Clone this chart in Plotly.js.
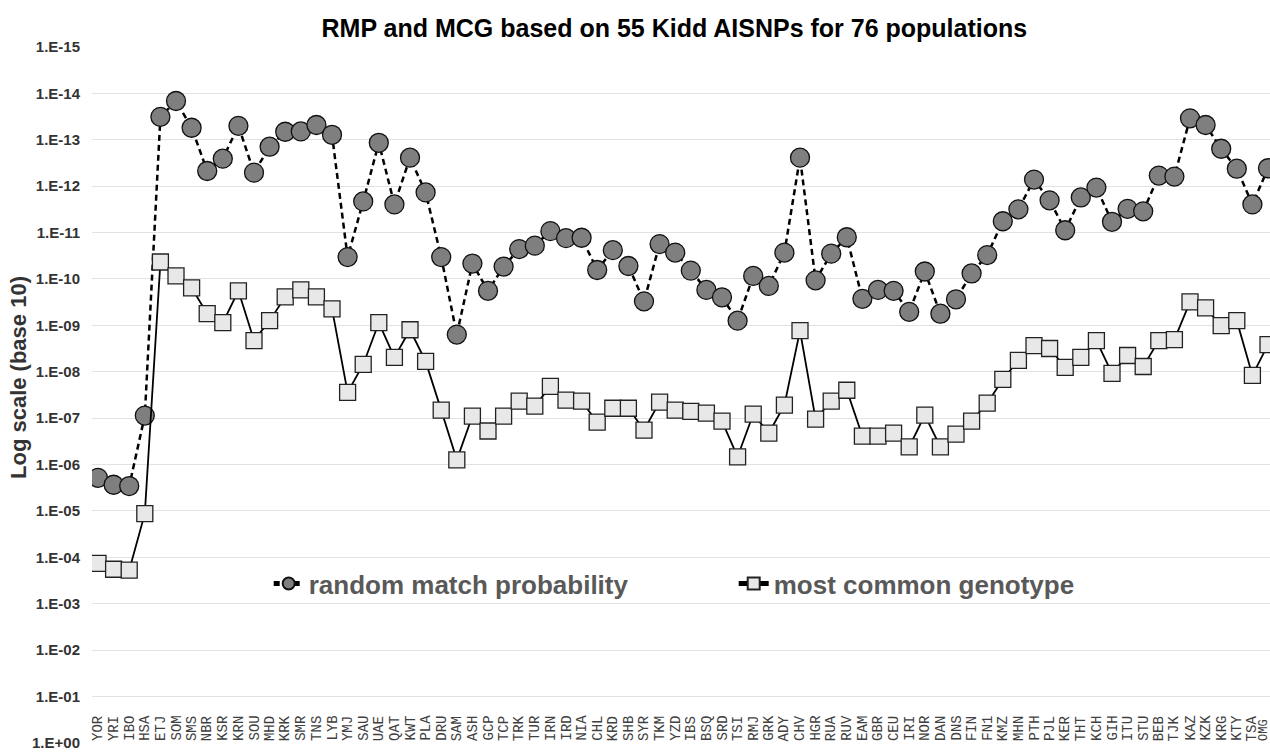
<!DOCTYPE html>
<html>
<head>
<meta charset="utf-8">
<script src="https://cdn.plot.ly/plotly-3.0.1.min.js"></script>
<style>html,body{margin:0;padding:0;background:#fff;}#chart{width:1270px;height:752px;}</style>
</head>
<body>
<div id="chart"></div>
<script>
const populations = ["YOR","YRI","IBO","HSA","ETJ","SOM","SMS","NBR","KSR","KRN","SOU","MHD","KRK","SMR","TNS","LYB","YMJ","SAU","UAE","QAT","KWT","PLA","DRU","SAM","ASH","GCP","TCP","TRK","TUR","IRN","IRD","NIA","CHL","KRD","SHB","SYR","TKM","YZD","IBS","BSQ","SRD","TSI","RMJ","GRK","ADY","CHV","HGR","RUA","RUV","EAM","GBR","CEU","IRI","NOR","DAN","DNS","FIN","FN1","KMZ","MHN","PTH","PJL","KER","THT","KCH","GIH","ITU","STU","BEB","TJK","KAZ","KZK","KRG","KTY","TSA","OMG"];

const rmp = [1.93e-6,2.72e-6,2.9e-6,8.8e-8,3.2e-14,1.46e-14,5.5e-14,4.7e-13,2.55e-13,5.0e-14,
  5.1e-13,1.41e-13,6.7e-14,6.6e-14,4.8e-14,7.8e-14,3.37e-11,2.13e-12,1.16e-13,2.47e-12,
  2.43e-13,1.36e-12,3.37e-11,1.58e-9,4.65e-11,1.8e-10,5.4e-11,2.27e-11,1.91e-11,9.3e-12,
  1.32e-11,1.29e-11,6.4e-11,2.39e-11,5.25e-11,3.03e-10,1.77e-11,2.7e-11,6.6e-11,1.72e-10,
  2.48e-10,7.9e-10,8.6e-11,1.41e-10,2.7e-11,2.43e-13,1.07e-10,2.84e-11,1.26e-11,2.68e-10,
  1.72e-10,1.8e-10,5.1e-10,6.9e-11,5.6e-10,2.74e-10,7.6e-11,3.05e-11,5.7e-12,3.15e-12,
  7.2e-13,2.02e-12,8.9e-12,1.75e-12,1.07e-12,5.85e-12,3.08e-12,3.48e-12,5.9e-13,6.2e-13,
  3.45e-14,4.8e-14,1.56e-13,4.2e-13,2.47e-12,4.1e-13];

const mcg = [1.34e-4,1.8e-4,1.89e-4,1.14e-5,4.3e-11,8.6e-11,1.56e-10,5.6e-10,8.75e-10,1.8e-10,
  2.12e-9,7.9e-10,2.43e-10,1.72e-10,2.43e-10,4.4e-10,2.77e-8,6.95e-9,8.75e-10,4.9e-9,
  1.24e-9,5.98e-9,6.7e-8,7.9e-7,9.0e-8,1.89e-7,9.0e-8,4.3e-8,5.5e-8,2.06e-8,
  4.1e-8,4.3e-8,1.22e-7,6.1e-8,6.1e-8,1.8e-7,4.5e-8,6.7e-8,7.1e-8,7.8e-8,
  1.16e-7,6.8e-7,8.2e-8,2.09e-7,5.25e-8,1.3e-9,1.05e-7,4.3e-8,2.5e-8,2.43e-7,
  2.43e-7,2.09e-7,4.17e-7,8.6e-8,4.17e-7,2.2e-7,1.16e-7,4.75e-8,1.46e-8,5.7e-9,
  2.72e-9,3.15e-9,8.05e-9,4.9e-9,2.12e-9,1.08e-8,4.46e-9,7.7e-9,2.12e-9,2.02e-9,
  3.1e-10,4.2e-10,1.01e-9,7.9e-10,1.19e-8,2.59e-9];

const yTickVals = [1e-15,1e-14,1e-13,1e-12,1e-11,1e-10,1e-9,1e-8,1e-7,1e-6,1e-5,1e-4,1e-3,1e-2,1e-1,1];
const yTickText = ["1.E-15","1.E-14","1.E-13","1.E-12","1.E-11","1.E-10","1.E-09","1.E-08","1.E-07","1.E-06","1.E-05","1.E-04","1.E-03","1.E-02","1.E-01","1.E+00"];

const traces = [
  {
    x: populations, y: rmp, type: 'scatter', mode: 'lines+markers',
    name: 'random match probability',
    line: {color: '#000000', width: 2.5, dash: '6px,4px'},
    marker: {symbol: 'circle', size: 19, color: '#7f7f7f', line: {color: '#111111', width: 1.3}}
  },
  {
    x: populations, y: mcg, type: 'scatter', mode: 'lines+markers',
    name: 'most common genotype',
    line: {color: '#000000', width: 1.8},
    marker: {symbol: 'square', size: 16, color: '#e8e8e8', line: {color: '#222222', width: 1.3}}
  }
];

const lastIdx = populations.length - 1;
const xLabelAnnotations = populations.map((p, i) => ({
  text: p, x: p, xref: 'x', y: 0.0, yref: 'paper', showarrow: false,
  xanchor: 'center', yanchor: 'bottom', textangle: -90,
  xshift: i === lastIdx ? -4 : 0,
  font: {family: 'Liberation Mono, Courier New, monospace', size: i === lastIdx ? 12 : 14, color: '#404040'}
}));

const layout = {
  width: 1270, height: 752,
  margin: {l: 92, r: 0, t: 47, b: 9},
  paper_bgcolor: '#ffffff', plot_bgcolor: '#ffffff',
  title: {text: 'RMP and MCG based on 55 Kidd AISNPs for 76 populations',
    font: {family: 'Liberation Sans, Arial, sans-serif', size: 25, color: '#000000', weight: 'bold'},
    x: 0.531, xanchor: 'center', y: 0.963, yanchor: 'middle'},
  showlegend: true,
  legend: {orientation: 'h', x: 0.15, xanchor: 'left', y: 0.229, yanchor: 'middle',
    bgcolor: 'rgba(0,0,0,0)', font: {family: 'Liberation Sans, Arial, sans-serif', size: 26, color: '#595959', weight: 'bold'},
    itemsizing: 'constant', entrywidth: 420},
  annotations: [{
    text: 'Log scale (base 10)', xref: 'paper', yref: 'paper', showarrow: false,
    x: (18 - 92) / 1178, y: (743 - 378) / 696, xanchor: 'center', yanchor: 'middle', textangle: -90,
    font: {family: 'Liberation Sans, Arial, sans-serif', size: 22, color: '#333333', weight: 'bold'}
  }].concat(xLabelAnnotations),
  xaxis: {
    type: 'category', range: [-0.385, 75.128], showgrid: false, zeroline: false, showline: false,
    showticklabels: false, ticks: ''
  },
  yaxis: {
    type: 'log', range: [0.0005, -15], tickvals: yTickVals, ticktext: yTickText,
    showgrid: true, gridcolor: '#e2e2e2', gridwidth: 1, zeroline: false, showline: false,
    ticks: 'outside', ticklen: 8, tickcolor: 'rgba(0,0,0,0)', ticklabeloverflow: 'allow',
    tickfont: {family: 'Liberation Sans, Arial, sans-serif', size: 15, color: '#333333', weight: 'bold'}
  }
};

Plotly.newPlot('chart', traces, layout, {displayModeBar: false, staticPlot: true});
</script>
</body>
</html>
